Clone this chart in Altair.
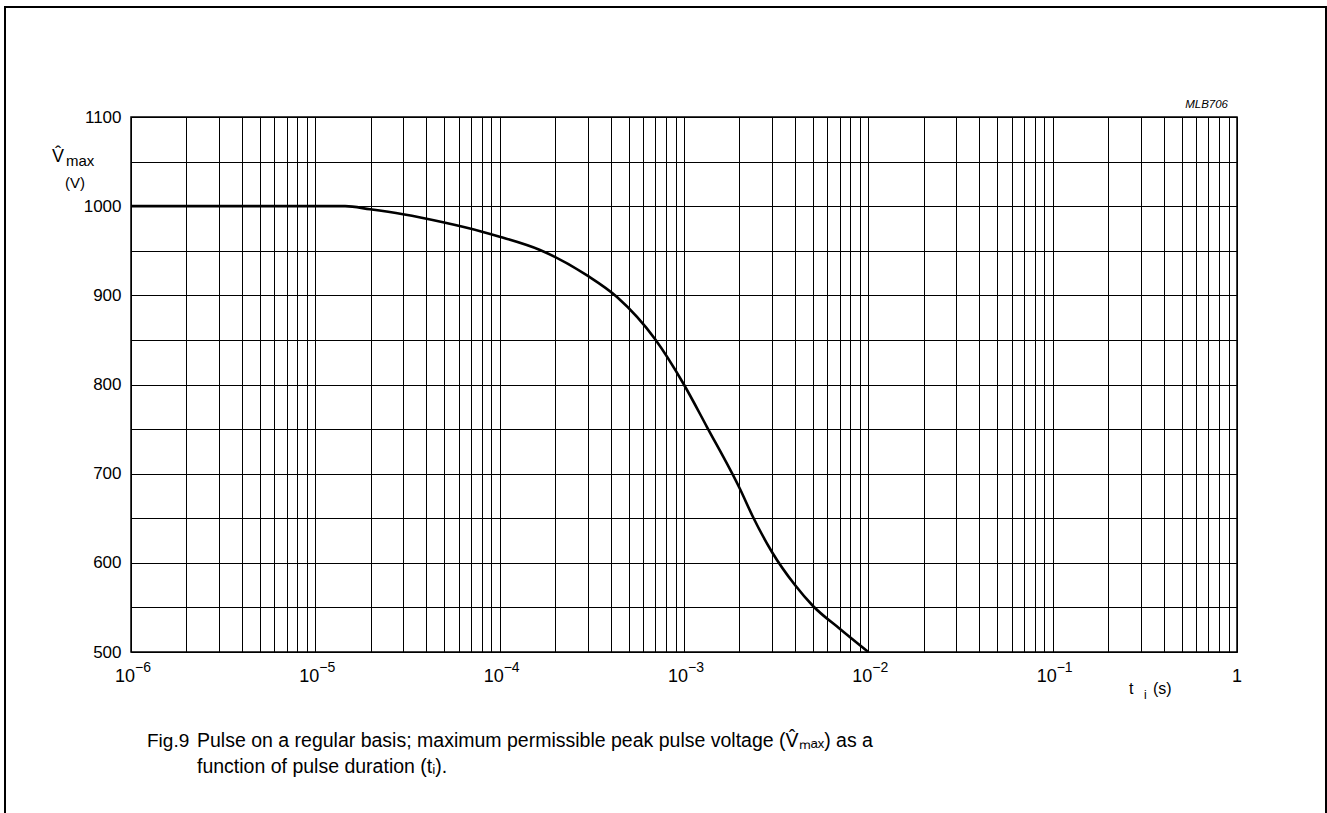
import altair as alt
import pandas as pd

# curve
t_s = [1e-6, 1.45e-5, 1.98e-5, 2.99e-5, 4.93e-5, 8.02e-5, 1.0e-4, 1.655e-4, 2.98e-4,
       4.33e-4, 6.96e-4, 9.88e-4, 1.333e-3, 2.013e-3, 2.368e-3, 3.0e-3, 4.0e-3,
       5.01e-3, 7.02e-3, 1.0e-2]
v_max = [1000, 1000, 996.5, 990.9, 981.9, 971.4, 965.8, 950.9, 922.3,
         898.1, 851.0, 801.7, 752.3, 682.8, 651.4, 612.2, 575.1,
         551.6, 525.8, 500]

# x tick labels: base and exponent
decade_vals = [1e-6, 1e-5, 1e-4, 1e-3, 1e-2, 1e-1, 1.0]
decade_base = ["10", "10", "10", "10", "10", "10", "1"]
decade_exp = ["\u22126", "\u22125", "\u22124", "\u22123", "\u22122", "\u22121", ""]

x_grid = [m * 10.0 ** k for k in range(-6, 0) for m in range(1, 10)] + [1.0]
y_grid = list(range(500, 1101, 50))

FONT = "Liberation Sans"

df = pd.DataFrame({"t": t_s, "v": v_max})
dec = pd.DataFrame({"t": decade_vals, "base": decade_base, "exp": decade_exp})

x_enc = alt.X("t:Q", scale=alt.Scale(type="log", domain=[1e-6, 1]),
              axis=alt.Axis(values=x_grid, labels=False, grid=True, gridColor="black",
                            gridWidth=1, gridOpacity=1, ticks=False, domain=False, title=None))
y_enc = alt.Y("v:Q", scale=alt.Scale(domain=[500, 1100], nice=False, zero=False),
              axis=alt.Axis(values=y_grid, format="d",
                            labelExpr="datum.value % 100 == 0 ? datum.label : ''",
                            grid=True, gridColor="black", gridWidth=1, gridOpacity=1,
                            ticks=False, domain=False, labelFontSize=17, labelFont=FONT,
                            labelColor="black", labelPadding=10, labelOverlap=False,
                            labelFlush=False, title=None))

curve = alt.Chart(df).mark_line(color="black", strokeWidth=2.6, interpolate="monotone").encode(
    x=x_enc, y=y_enc)

xs = alt.Scale(type="log", domain=[1e-6, 1])
base_lbl = alt.Chart(dec).transform_filter("datum.exp != ''").mark_text(
    fontSize=18, font=FONT, align="right", baseline="alphabetic", dx=4, color="black"
).encode(x=alt.X("t:Q", scale=xs), y=alt.value(565), text="base:N")
one_lbl = alt.Chart(dec).transform_filter("datum.exp == ''").mark_text(
    fontSize=18, font=FONT, align="center", baseline="alphabetic", color="black"
).encode(x=alt.X("t:Q", scale=xs), y=alt.value(565), text="base:N")
exp_lbl = alt.Chart(dec).mark_text(
    fontSize=14, font=FONT, align="left", baseline="alphabetic", dx=4, color="black"
).encode(x=alt.X("t:Q", scale=xs), y=alt.value(555), text="exp:N")

one = pd.DataFrame({"a": [0]})


def txt(s, x, y, size, align="left", style="normal", font=FONT):
    return alt.Chart(one).mark_text(text=s, fontSize=size, font=font, align=align,
                                    baseline="alphabetic", fontStyle=style,
                                    color="black").encode(x=alt.value(x), y=alt.value(y))


frame = alt.Chart(one).mark_rect(fill=None, stroke="black", strokeWidth=2).encode(
    x=alt.value(-126), x2=alt.value(1195), y=alt.value(-110), y2=alt.value(720))

texts = [
    txt("V\u0302", -79, 45, 18),
    txt("max", -65, 49, 15),
    txt("(V)", -66, 71, 15),
    txt("MLB706", 1097, -9, 11.5, align="right", style="italic"),
    txt("t", 998, 577, 16),
    txt("i", 1013, 582, 12),
    txt("(s)", 1022, 577, 16),
    txt("Fig.9", 16, 630, 19),
    txt("Pulse on a regular basis; maximum permissible peak pulse voltage (V\u0302\u2098\u2090\u2093) as a",
        66, 630, 19.5),
    txt("function of pulse duration (t\u1d62).", 66, 656, 19.5),
]

chart = alt.layer(frame, curve, base_lbl, one_lbl, exp_lbl, *texts).properties(
    width=1106, height=535,
    autosize=alt.AutoSizeParams(type="none"),
    padding={"left": 131, "top": 117, "right": 90, "bottom": 161},
    background="white",
).configure_view(stroke="black", strokeWidth=1.5)

chart.save("out.html", embed_options={"renderer": "svg", "actions": False})
